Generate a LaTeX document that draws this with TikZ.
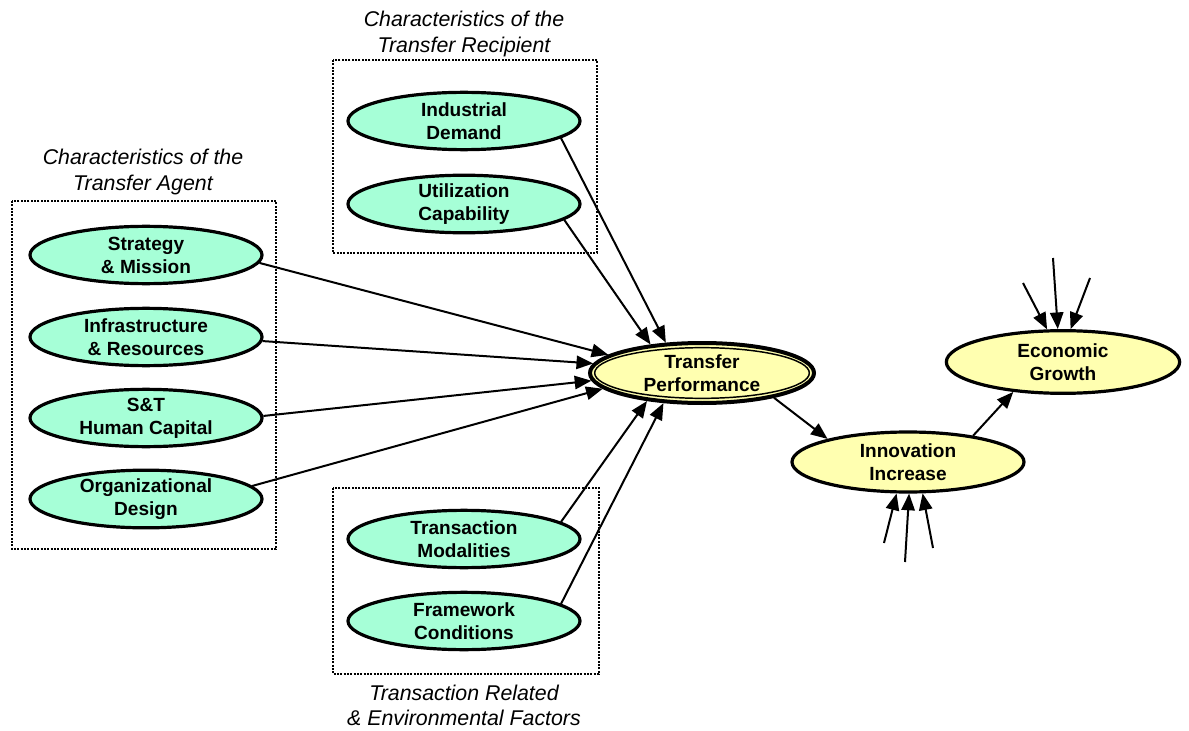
\documentclass[tikz,border=0pt]{standalone}
\usepackage{fontspec}
\setmainfont{Liberation Sans}
\usetikzlibrary{shapes.geometric,arrows.meta}
\definecolor{mint}{RGB}{166,255,215}
\definecolor{paleyellow}{RGB}{255,255,176}
\begin{document}
\begin{tikzpicture}[x=0.75pt,y=-0.75pt,
  oval/.style={ellipse,draw=black,line width=2.4pt,inner sep=0pt,align=center,
    font=\bfseries\fontsize{14.3}{17.2}\selectfont},
  factor/.style={oval,fill=mint,minimum width=174pt,minimum height=43pt},
  outcome/.style={oval,fill=paleyellow},
  grp/.style={draw=black,line width=1.5pt,densely dotted},
  grplabel/.style={align=center,font=\itshape\fontsize{16}{18.8}\selectfont},
  link/.style={line width=1.5pt,-{Triangle[length=12.5pt,width=10pt]}}]
\useasboundingbox (0,0) rectangle (1189,731);

% groups of factors
\draw[grp] (12,201) rectangle (276,549);
\draw[grp] (333,60) rectangle (597,253);
\draw[grp] (333,488) rectangle (599,674);
\node[grplabel] (lagent) at (143,172) {Characteristics of the\\Transfer Agent};
\node[grplabel] (lrecip) at (464,34) {Characteristics of the\\Transfer Recipient};
\node[grplabel] (lenv) at (464,705) {Transaction Related\\\& Environmental Factors};

% transfer agent
\node[factor] (sm) at (146,255) {Strategy\\\& Mission};
\node[factor] (ir) at (146,337) {Infrastructure\\\& Resources};
\node[factor] (hc) at (146,418) {S\&T\\Human Capital};
\node[factor] (od) at (146,499) {Organizational\\Design};

% transfer recipient
\node[factor] (id) at (464,121) {Industrial\\Demand};
\node[factor] (uc) at (464,204) {Utilization\\Capability};

% transaction and environment
\node[factor] (tm) at (464,539) {Transaction\\Modalities};
\node[factor] (fc) at (464,621) {Framework\\Conditions};

% outcomes; the central one carries a thick outer and a thin inner rim
\node[outcome,minimum width=168pt,minimum height=45pt,line width=3pt] (tp) at (702,373) {};
\draw[line width=1.1pt] (tp.center) ellipse [x radius=80.5pt, y radius=19pt];
\node[oval,draw=none,fill=none] (tptext) at (tp.center) {Transfer\\Performance};
\node[outcome,minimum width=174pt,minimum height=45pt] (ii) at (908,462) {Innovation\\Increase};
\node[outcome,minimum width=175pt,minimum height=47pt] (eg) at (1063,362) {Economic\\Growth};

% loose ends of further influences
\coordinate (e1) at (1023,283);
\coordinate (e2) at (1053,258);
\coordinate (e3) at (1090,278);
\coordinate (i1) at (884,543);
\coordinate (i2) at (905,562);
\coordinate (i3) at (933,548);

% influences on transfer performance
\draw[link] (sm.-4) -- (tp.169);
\draw[link] (ir.-2) -- (tp.175);
\draw[link] (hc.1.5) -- (tp.184);
\draw[link] (od.7) -- (tp.189);
\draw[link] (id.-10) -- (tp.140);
\draw[link] (uc.-9.6) -- (tp.151);
\draw[link] (tm.10) -- (tp.207);
\draw[link] (fc.10.6) -- (tp.218);

% chain of effects
\draw[link] (tp.-19.5) -- (ii.164);
\draw[link] (ii.22.5) -- (eg.211);
\draw[link] (e1) -- (eg.116);
\draw[link] (e2) -- (eg.99);
\draw[link] (e3) -- (eg.77);
\draw[link] (i1) -- (ii.250);
\draw[link] (i2) -- (ii.272);
\draw[link] (i3) -- (ii.295);
\end{tikzpicture}
\end{document}
